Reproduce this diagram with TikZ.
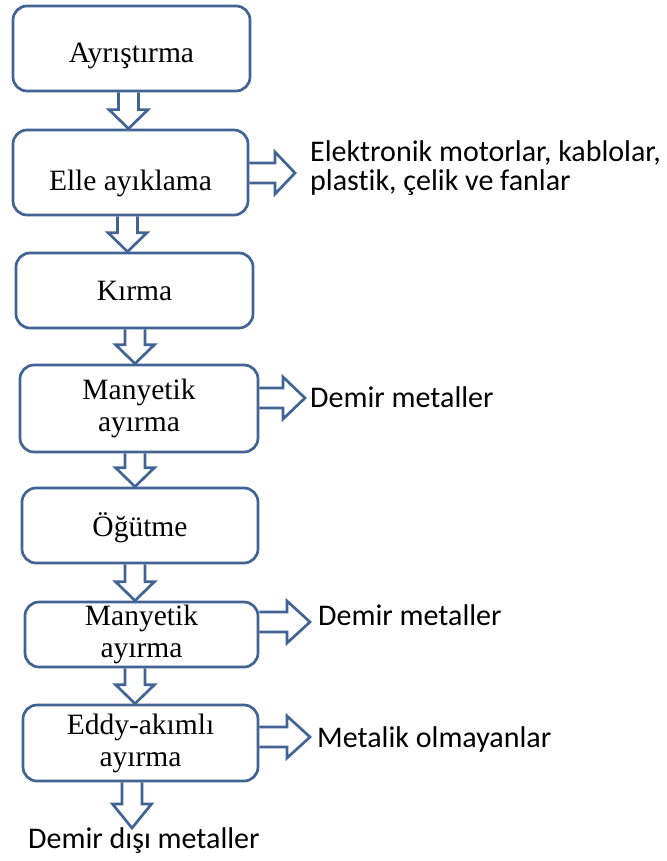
\documentclass[tikz,border=0pt]{standalone}
\usepackage{fontspec}
\setmainfont{Liberation Serif}
\newfontfamily\carl[Ligatures=NoCommon]{Carlito}
\usetikzlibrary{calc}
\definecolor{edgeblue}{RGB}{66,100,148}
\tikzset{
  stage/.style={draw=edgeblue, line width=2.7pt, rounded corners=14pt, fill=white,
    inner sep=0pt, align=center, font=\fontsize{29.5}{32}\selectfont},
  blockarr/.style={draw=edgeblue, line width=2.7pt, line join=miter},
  outtext/.style={anchor=base west, inner sep=0pt, align=left,
    font=\carl\fontsize{30}{28.5}\selectfont},
}
\newcommand\downblock[3]{%
  \draw[blockarr] ($#1+(-10,0)$) -- ($#2+(-10,#3)$) -- ($#2+(-19.5,#3)$) -- #2
    -- ($#2+(19.5,#3)$) -- ($#2+(10,#3)$) -- ($#1+(10,0)$);}
\newcommand\rightblock[3]{%
  \draw[blockarr] ($#1+(0,10)$) -- ($#2+(-#3,10)$) -- ($#2+(-#3,21)$) -- #2
    -- ($#2+(-#3,-21)$) -- ($#2+(-#3,-10)$) -- ($#1+(0,-10)$);}
\begin{document}
\begin{tikzpicture}[x=1pt,y=1pt]
\useasboundingbox (0,0) rectangle (666,-861);
% stages
\node[stage, minimum width=237pt, minimum height=85pt, text height=29pt, text depth=0pt] (s1) at (131.5,-48.5) {Ayrıştırma};
\node[stage, minimum width=235pt, minimum height=85pt, text height=35pt, text depth=0pt] (s2) at (130.5,-172.5) {Elle ayıklama};
\node[stage, minimum width=237pt, minimum height=75pt, text height=20.4pt, text depth=0pt] (s3) at (134.5,-290.5) {Kırma};
\node[stage, minimum width=238pt, minimum height=87pt] (s4) at (139,-408.5) {Manyetik\\ayırma};
\node[stage, minimum width=236pt, minimum height=75pt, text height=22.4pt, text depth=0pt] (s5) at (140,-525.5) {Öğütme};
\node[stage, minimum width=233pt, minimum height=65pt] (s6) at (141.5,-634.5) {Manyetik\\ayırma};
\node[stage, minimum width=235pt, minimum height=76pt] (s7) at (140.5,-743) {Eddy-akımlı\\ayırma};
% output texts
\node[outtext] (o2) at (310,-190) {Elektronik motorlar, kablolar,\\plastik, çelik ve fanlar};
\node[outtext] (o4) at (310,-407) {Demir metaller};
\node[outtext] (o6) at (318,-625) {Demir metaller};
\node[outtext] (o7) at (317,-747) {Metalik olmayanlar};
\node[outtext] (o8) at (28,-848) {Demir dışı metaller};
% arrow columns and tips
\coordinate (c1) at (128.5,0);
\coordinate (c2) at (127.5,0);
\coordinate (c3) at (135,0);
\coordinate (c4) at (135,0);
\coordinate (c5) at (135,0);
\coordinate (c6) at (135,0);
\coordinate (c7) at (132,0);
\coordinate (b7) at (132,-828);
\coordinate (t2) at (295,-173);
\coordinate (t4) at (305,-398);
\coordinate (t6) at (310,-622);
\coordinate (t7) at (310,-737);
% down arrows
\downblock{(s1.south -| c1)}{(s2.north -| c1)}{19}
\downblock{(s2.south -| c2)}{(s3.north -| c2)}{19}
\downblock{(s3.south -| c3)}{(s4.north -| c3)}{19}
\downblock{(s4.south -| c4)}{(s5.north -| c4)}{19}
\downblock{(s5.south -| c5)}{(s6.north -| c5)}{19}
\downblock{(s6.south -| c6)}{(s7.north -| c6)}{19}
\downblock{(s7.south -| c7)}{(b7)}{24}
% right arrows
\rightblock{(s2.east |- t2)}{(t2)}{20}
\rightblock{(s4.east |- t4)}{(t4)}{22}
\rightblock{(s6.east |- t6)}{(t6)}{23}
\rightblock{(s7.east |- t7)}{(t7)}{23}
\end{tikzpicture}
\end{document}
